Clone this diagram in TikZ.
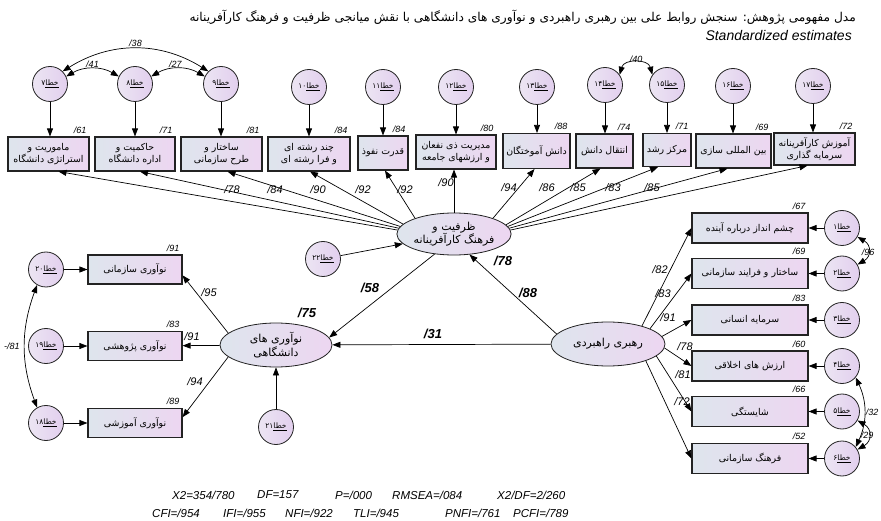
\documentclass[tikz,border=0pt]{standalone}
\usepackage{fontspec}
\usepackage{graphicx}
\setmainfont{Liberation Sans}
\newfontfamily\fa[Script=Arabic]{DejaVu Sans}
\TeXXeTstate=1
\usetikzlibrary{arrows.meta,shapes.geometric,calc}
\newcommand\fat[1]{{\fa\beginR #1\endR}}
\newcommand\errl[1]{\hbox{{\fa #1}\underline{\fa خطا}}}
\definecolor{bxl}{RGB}{222,229,237}
\definecolor{bxr}{RGB}{237,214,241}
\definecolor{cil}{RGB}{236,229,243}
\definecolor{cir}{RGB}{226,207,238}
\definecolor{edge}{RGB}{35,35,35}
\tikzset{
 bx/.style={draw=edge, line width=1.1pt, left color=bxl, right color=bxr, align=center, inner sep=1pt, font=\fa\fontsize{9.4}{12}\selectfont},
 er/.style={circle, draw=edge, line width=0.8pt, left color=cil, right color=cir, minimum size=35pt, inner sep=0pt, font=\fa\fontsize{7.5}{9}\selectfont},
 el/.style={ellipse, draw=edge, line width=0.8pt, left color=bxl, right color=bxr, align=center, inner sep=0pt, font=\fa\fontsize{11}{13.5}\selectfont},
 ar/.style={-{Triangle[length=8pt,width=6pt]}, line width=0.7pt},
 dar/.style={{Triangle[length=8pt,width=6pt]}-{Triangle[length=8pt,width=6pt]}, line width=0.7pt},
 lb/.style={font=\itshape\fontsize{11}{13}\selectfont, inner sep=0pt},
 sl/.style={font=\itshape\fontsize{9}{11}\selectfont, inner sep=0pt},
 bl/.style={font=\bfseries\itshape\fontsize{13}{15}\selectfont, inner sep=0pt},
 ft/.style={font=\itshape\fontsize{11.5}{14}\selectfont, inner sep=0pt, anchor=west},
}
\begin{document}
\begin{tikzpicture}[x=1pt,y=-1pt]
\useasboundingbox (0,0) rectangle (881,521);
% title
\node[anchor=east, font=\fa\fontsize{12.2}{14}\selectfont, inner sep=0pt] (title) at (856,17) {\fat{مدل مفهومی پژوهش: سنجش روابط علی بین رهبری راهبردی و نوآوری های دانشگاهی با نقش میانجی ظرفیت و فرهنگ کارآفرینانه}};
\node[anchor=east, font=\itshape\fontsize{14}{16}\selectfont, inner sep=0pt] (std) at (852,36) {Standardized estimates};
% top boxes
\node[bx,minimum width=81pt,minimum height=34pt] (t1) at (48.5,154) {\fat{ماموریت و}\\\fat{استراتژی دانشگاه}};
\node[bx,minimum width=80pt,minimum height=34pt] (t2) at (135,154) {\fat{حاکمیت و}\\\fat{اداره دانشگاه}};
\node[bx,minimum width=81pt,minimum height=34pt] (t3) at (221.5,154) {\fat{ساختار و}\\\fat{طرح سازمانی}};
\node[bx,minimum width=82pt,minimum height=34pt] (t4) at (309,154) {\fat{چند رشته ای}\\\fat{و فرا رشته ای}};
\node[bx,minimum width=50pt,minimum height=34pt] (t5) at (383,153) {\fat{قدرت نفوذ}};
\node[bx,minimum width=80pt,minimum height=34pt] (t6) at (456,152) {\fat{مدیریت ذی نفعان}\\\fat{و ارزشهای جامعه}};
\node[bx,minimum width=67pt,minimum height=35pt] (t7) at (536.5,151) {\fat{دانش آموختگان}};
\node[bx,minimum width=57pt,minimum height=34pt] (t8) at (604.5,151) {\fat{انتقال دانش}};
\node[bx,minimum width=48pt,minimum height=33pt] (t9) at (667,150) {\fat{مرکز رشد}};
\node[bx,minimum width=75pt,minimum height=34pt] (t10) at (733.5,151) {\fat{بین المللی سازی}};
\node[bx,minimum width=81pt,minimum height=32pt] (t11) at (814.5,149) {\fat{آموزش کارآفرینانه}\\\fat{سرمایه گذاری}};
% top errors
\node[er] (e7) at (50,84) {\errl{۷}};
\node[er] (e8) at (135,84) {\errl{۸}};
\node[er] (e9) at (221,84) {\errl{۹}};
\node[er] (e10) at (309,87) {\errl{۱۰}};
\node[er] (e11) at (383,87) {\errl{۱۱}};
\node[er] (e12) at (456,87) {\errl{۱۲}};
\node[er] (e13) at (537,87) {\errl{۱۳}};
\node[er] (e14) at (605,85) {\errl{۱۴}};
\node[er] (e15) at (667,85) {\errl{۱۵}};
\node[er] (e16) at (733,86) {\errl{۱۶}};
\node[er] (e17) at (813,86) {\errl{۱۷}};
\foreach \e/\b in {e7/t1,e8/t2,e9/t3,e10/t4,e11/t5,e12/t6,e13/t7,e14/t8,e15/t9,e16/t10,e17/t11}
  \draw[ar] (\e.south) -- (\e.south |- \b.north);
% R2 top boxes
\foreach \b/\v in {t1/61,t2/71,t3/81,t4/84,t5/84,t6/80,t7/88,t8/74,t9/71,t10/69,t11/72}
  \node[sl, anchor=south east] (r\b) at ($(\b.north east)+(-3,-3)$) {/\v};
% correlations top
\draw[dar] (e7.25) to[bend left=30] node[sl, above=1pt] (c41) {/41} (e8.155);
\draw[dar] (e8.25) to[bend left=30] node[sl, above=1pt, pos=0.45] (c27) {/27} (e9.155);
\draw[dar] (e7.45) to[bend left=32] node[sl, above=1.5pt] (c38) {/38} (e9.135);
\draw[dar] (e14.35) to[out=75,in=105,looseness=1.3] node[sl, above=0pt] (c40) {/40} (e15.145);
% central ellipse
\node[el, minimum width=114pt, minimum height=42pt] (ce) at (454,234) {\fat{ظرفیت و}\\\fat{فرهنگ کارآفرینانه}};
\draw[ar] (ce.176) -- ($(t1.south)+(10,0)$);
\draw[ar] (ce.174) -- ($(t2.south)+(5,0)$);
\draw[ar] (ce.172) -- ($(t3.south)+(6,0)$);
\draw[ar] (ce.169) -- ($(t4.south)+(1,0)$);
\draw[ar] (ce.158) -- ($(t5.south)+(2,0)$);
\draw[ar] (ce.north) -- (ce.north |- t6.south);
\draw[ar] (ce.22) -- ($(t7.south)+(-2,0)$);
\draw[ar] (ce.10) -- ($(t8.south)+(-4,0)$);
\draw[ar] (ce.8) -- ($(t9.south)+(-9,0)$);
\draw[ar] (ce.6) -- ($(t10.south)+(-6,0)$);
\draw[ar] (ce.4) -- ($(t11.south)+(-7,0)$);
\node[lb] (p1) at (232,190) {/78};
\node[lb] (p2) at (275,190) {/84};
\node[lb] (p3) at (318,190) {/90};
\node[lb] (p4) at (363,190) {/92};
\node[lb] (p5) at (405,190) {/92};
\node[lb] (p6) at (446,183) {/90};
\node[lb] (p7) at (509,188) {/94};
\node[lb] (p8) at (547,188) {/86};
\node[lb] (p9) at (578,188) {/85};
\node[lb] (p10) at (613,188) {/83};
\node[lb] (p11) at (652,188) {/85};
\node[er] (e22) at (323,259) {\errl{۲۲}};
\draw[ar] (e22) -- (ce);
% left and right latent
\node[el, minimum width=112pt, minimum height=44pt] (le) at (276,345) {\fat{نوآوری های}\\\fat{دانشگاهی}};
\node[el, minimum width=114pt, minimum height=44pt] (rl) at (608,344) {\fat{رهبری راهبردی}};
\draw[ar] (ce.226) -- (le.8);
\draw[ar] (rl.169) -- (ce.-53);
\draw[ar] (rl) -- (le);
\node[bl] (b78) at (503,261) {/78};
\node[bl] (b58) at (370,288) {/58};
\node[bl] (b88) at (528,293) {/88};
\node[bl] (b75) at (307,313) {/75};
\node[bl] (b31) at (433,334) {/31};
% left boxes
\node[bx,minimum width=94pt,minimum height=29pt] (lb1) at (135,269.5) {\fat{نوآوری سازمانی}};
\node[bx,minimum width=94pt,minimum height=29pt] (lb2) at (135,346) {\fat{نوآوری پژوهشی}};
\node[bx,minimum width=94pt,minimum height=29pt] (lb3) at (135,423) {\fat{نوآوری آموزشی}};
\node[er] (e20) at (46,269.5) {\errl{۲۰}};
\node[er] (e19) at (46,346) {\errl{۱۹}};
\node[er] (e18) at (46,423) {\errl{۱۸}};
\draw[ar] (e20) -- (lb1);
\draw[ar] (e19) -- (lb2);
\draw[ar] (e18) -- (lb3);
\draw[ar] (le.166) -- (lb1.-7);
\draw[ar] (le) -- (lb2);
\draw[ar] (le.194) -- (lb3.7);
\node[sl, anchor=south east] (rlb1) at ($(lb1.north east)+(-3,-3)$) {/91};
\node[sl, anchor=south east] (rlb2) at ($(lb2.north east)+(-3,-3)$) {/83};
\node[sl, anchor=south east] (rlb3) at ($(lb3.north east)+(-3,-3)$) {/89};
\node[lb] (q1) at (209,293) {/95};
\node[lb] (q2) at (192,337) {/91};
\node[lb] (q3) at (195,382) {/94};
\draw[dar] (e20.240) to[bend right=20] (e18.120);
\node[sl] (c81) at (12,346) {-/81};
\node[er] (e21) at (276,427) {\errl{۲۱}};
\draw[ar] (e21) -- (le);
% right boxes
\node[bx,minimum width=116pt,minimum height=30pt] (rb1) at (750,228) {\fat{چشم انداز درباره آینده}};
\node[bx,minimum width=116pt,minimum height=30pt] (rb2) at (750,273.5) {\fat{ساختار و فرایند سازمانی}};
\node[bx,minimum width=116pt,minimum height=30pt] (rb3) at (750,320) {\fat{سرمایه انسانی}};
\node[bx,minimum width=116pt,minimum height=30pt] (rb4) at (750,366) {\fat{ارزش های اخلاقی}};
\node[bx,minimum width=116pt,minimum height=30pt] (rb5) at (750,411.5) {\fat{شایستگی}};
\node[bx,minimum width=116pt,minimum height=30pt] (rb6) at (750,458.5) {\fat{فرهنگ سازمانی}};
\node[er] (e1) at (842,228) {\errl{۱}};
\node[er] (e2) at (842,273.5) {\errl{۲}};
\node[er] (e3) at (842,320) {\errl{۳}};
\node[er] (e4) at (842,366) {\errl{۴}};
\node[er] (e5) at (842,411.5) {\errl{۵}};
\node[er] (e6) at (842,458.5) {\errl{۶}};
\foreach \e/\b in {e1/rb1,e2/rb2,e3/rb3,e4/rb4,e5/rb5,e6/rb6}
  \draw[ar] (\e) -- (\b);
\foreach \b/\v in {rb1/67,rb2/69,rb3/83,rb4/60,rb5/66,rb6/52}
  \node[sl, anchor=south east] (r\b) at ($(\b.north east)+(-3,-3)$) {/\v};
\draw[ar] (rl.28) -- (rb1.west);
\draw[ar] (rl.20) -- (rb2.west);
\draw[ar] (rl.8) -- (rb3.west);
\draw[ar] (rl.-4) -- (rb4.west);
\draw[ar] (rl.-14) -- (rb5.west);
\draw[ar] (rl.-24) -- (rb6.west);
\node[lb] (s1) at (660,270) {/82};
\node[lb] (s2) at (663,294) {/83};
\node[lb] (s3) at (668,318) {/91};
\node[lb] (s4) at (685,347) {/78};
\node[lb] (s5) at (683,375) {/81};
\node[lb] (s6) at (682,402) {/72};
\draw[dar] (e1.-30) to[out=-30,in=30,looseness=1.5] (e2.30);
\node[sl] (c96) at (868,252) {/96};
\draw[dar] (e4.-40) to[bend left=25] (e6.40);
\node[sl] (c32) at (872,412) {/32};
\draw[dar] (e5.-30) to[out=-30,in=30,looseness=1.5] (e6.30);
\node[sl] (c29) at (867,435) {/29};
% fit statistics
\node[ft] (f1) at (172,495) {X2=354/780};
\node[ft] (f2) at (257,495) {DF=157};
\node[ft] (f3) at (335,495) {P=/000};
\node[ft] (f4) at (392,495) {RMSEA=/084};
\node[ft] (f5) at (497,495) {X2/DF=2/260};
\node[ft] (g1) at (152,513) {CFI=/954};
\node[ft] (g2) at (223,513) {IFI=/955};
\node[ft] (g3) at (285,513) {NFI=/922};
\node[ft] (g4) at (353,513) {TLI=/945};
\node[ft] (g5) at (445,513) {PNFI=/761};
\node[ft] (g6) at (513,513) {PCFI=/789};
\end{tikzpicture}
\end{document}
